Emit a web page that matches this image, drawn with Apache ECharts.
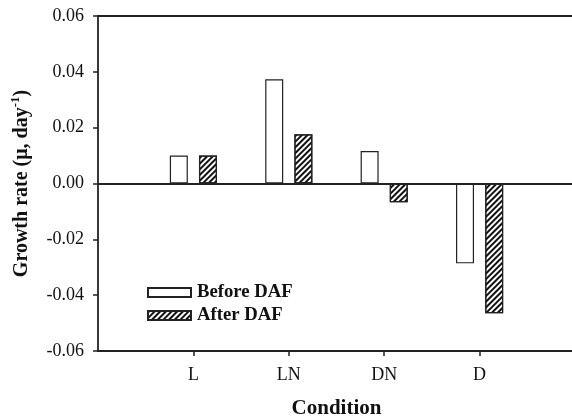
<!DOCTYPE html>
<html>
<head>
<meta charset="utf-8">
<script src="https://cdn.jsdelivr.net/npm/echarts@6/dist/echarts.min.js"></script>
<style>
  html, body { margin: 0; padding: 0; background: #fff; }
  #chart { width: 572px; height: 420px; }
</style>
</head>
<body>
<div id="chart"></div>
<script>
// Growth rate by light/nutrient condition, before and after DAF
const categories = ['L', 'LN', 'DN', 'D'];
const beforeDAF = [0.0100, 0.0373, 0.0116, -0.0286];
const afterDAF = [0.0100, 0.0176, -0.0067, -0.0465];
const yTicks = { min: -0.06, max: 0.06, step: 0.02 };

const FONT = '"Liberation Serif", "Times New Roman", serif';

// Pad the category axis with an empty slot on each side so the four
// conditions sit on inner ticks, leaving space at both ends of the frame.
const axisCats = [''].concat(categories, ['']);
const pad = arr => [null].concat(arr, [null]);

const chart = echarts.init(document.getElementById('chart'), null, { renderer: 'canvas' });

const barBorder = { borderColor: '#222', borderWidth: 1.2 };

chart.setOption({
  animation: false,
  backgroundColor: '#fff',
  grid: {
    left: 98, top: 16, width: 477, height: 335,
    containLabel: false,
    outerBoundsMode: 'none'
  },
  legend: {
    orient: 'vertical',
    left: 142,
    top: 278,
    icon: 'rect',
    itemWidth: 43,
    itemHeight: 9,
    itemGap: 4,
    textStyle: { fontFamily: FONT, fontSize: 18.7, fontWeight: 'bold', color: '#111', padding: [0, 0, 0, 1] },
    data: ['Before DAF', 'After DAF']
  },
  xAxis: [
    {
      type: 'category',
      data: axisCats,
      boundaryGap: false,
      position: 'bottom',
      axisLine: { onZero: false, lineStyle: { color: '#222', width: 1.8 } },
      axisTick: {
        length: 5,
        lineStyle: { color: '#222', width: 1.5 },
        interval: (i, v) => v !== ''
      },
      axisLabel: {
        fontFamily: FONT, fontSize: 18, color: '#111', margin: 15,
        interval: 0
      },
      splitLine: { show: false },
      name: 'Condition',
      nameLocation: 'middle',
      nameGap: 47,
      nameTextStyle: { fontFamily: FONT, fontSize: 21, fontWeight: 'bold', color: '#111' }
    },
    {
      type: 'category',
      data: axisCats,
      boundaryGap: false,
      position: 'top',
      axisLine: { onZero: false, lineStyle: { color: '#222', width: 1.8 } },
      axisTick: { show: false },
      axisLabel: { show: false }
    }
  ],
  yAxis: {
    type: 'value',
    min: yTicks.min,
    max: yTicks.max,
    interval: yTicks.step,
    axisLine: { show: true, onZero: false, lineStyle: { color: '#222', width: 1.8 } },
    axisTick: { show: true, length: 5, lineStyle: { color: '#222', width: 1.5 } },
    axisLabel: {
      fontFamily: FONT, fontSize: 18, color: '#111', margin: 14,
      formatter: v => v.toFixed(2)
    },
    splitLine: { show: false },
    name: '{t|Growth rate (μ, day}{s|-1}{t|)}',
    nameLocation: 'middle',
    nameRotate: 90,
    nameGap: 66,
    nameTextStyle: {
      fontFamily: FONT, fontSize: 20, fontWeight: 'bold', color: '#111',
      rich: {
        t: { fontFamily: FONT, fontSize: 20, fontWeight: 'bold', color: '#111', verticalAlign: 'bottom', lineHeight: 23 },
        s: { fontFamily: FONT, fontSize: 13, fontWeight: 'bold', color: '#111', verticalAlign: 'top', lineHeight: 23 }
      }
    }
  },
  series: [
    {
      name: 'Before DAF',
      type: 'bar',
      data: pad(beforeDAF),
      barWidth: 18,
      barGap: '62%',
      itemStyle: Object.assign({ color: '#fff' }, barBorder),
      markLine: {
        silent: true,
        symbol: 'none',
        label: { show: false },
        lineStyle: { color: '#222', width: 1.8, type: 'solid' },
        data: [{ yAxis: 0 }]
      }
    },
    {
      name: 'After DAF',
      type: 'bar',
      data: pad(afterDAF),
      barWidth: 18,
      itemStyle: Object.assign({
        color: '#fff',
        decal: {
          symbol: 'rect',
          color: '#111',
          dashArrayX: [1, 0],
          dashArrayY: [1.6, 1.6],
          rotation: -Math.PI / 4
        }
      }, barBorder)
    }
  ]
});
</script>
</body>
</html>
